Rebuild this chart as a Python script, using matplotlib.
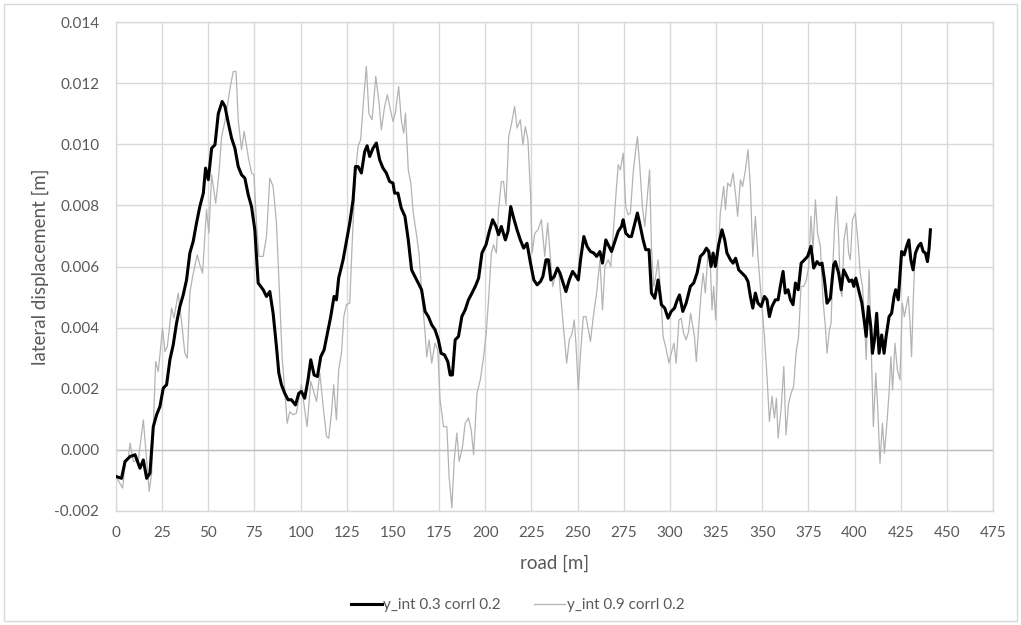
import matplotlib
matplotlib.use("Agg")
import matplotlib.pyplot as plt
from matplotlib.patches import Rectangle

# ---------------- data ----------------
road_a = [0, 3, 4.9, 7.6, 10.3, 13, 14.8, 16.6, 18.4, 20.2, 22, 23.8, 25.6, 27.4, 29.2, 31, 32.8, 34.6, 36.4, 38.2,
          40, 41.8, 43.6, 45.4, 47.3, 48.5, 50, 51.8, 53.6, 55.4, 57.5, 59, 60.8, 62.6, 64.4, 66.2, 68, 69.8, 71.6, 73.4,
          75.2, 77, 79.7, 81.5, 83.3, 85.1, 86.9, 88.2, 89.6, 91.4, 93.2, 95, 97.2, 99, 100.4, 102.2, 104, 105.5, 107.3,
          109.1, 110.9, 112.7, 114.5, 116.3, 118.1, 119.4, 120.6, 123, 124.8, 126.6, 128.4, 129.7, 131.1, 132.9, 134.7,
          136, 137.4, 139.2, 141, 142.8, 144.6, 146.4, 148.2, 150, 150.9, 152.7, 154.5, 156.5, 158.3, 160.1, 161.9,
          163.7, 165.5, 167.4, 169.2, 171, 172.8, 174.6, 176.1, 177.9, 179.7, 181, 182.2, 183.7, 185.5, 187.3, 189.1,
          190.9, 192.8, 194.6, 196.4, 198.2, 200.4, 202.2, 204, 205.8, 207.2, 208.7, 210.9, 212.3, 213.8, 215.4, 217.2,
          219, 220.8, 222.6, 224.5, 226.3, 228.1, 229.9, 231.2, 232.9, 234.2, 235.5, 237.3, 239.1, 240.5, 241.9, 243.7,
          245.5, 247.3, 248.6, 250.4, 251.6, 253.4, 255.2, 257, 258.8, 260.3, 262.1, 263.5, 265.3, 266.6, 268.4, 270.2,
          272, 273.8, 274.7, 276.1, 277.9, 279.2, 281, 282.4, 284, 285.5, 286.9, 288.7, 290, 291.8, 293.6, 295.4, 297.2,
          299, 300.7, 302.5, 304, 305.2, 307, 308.8, 311.1, 312.9, 314.7, 316.5, 318.3, 319.8, 321, 322.3, 323.4, 324.6,
          326.4, 328.2, 329.7, 330.9, 332.8, 334.2, 335.6, 337.3, 339.1, 340.9, 342.3, 343.6, 344.9, 346.3, 347.7, 349.4,
          351.2, 352.6, 353.9, 355.3, 357.1, 358.6, 359.8, 361.3, 362.5, 364, 365.3, 366.7, 368, 369.5, 371.1, 372.9,
          374.6, 376.4, 377.9, 379.7, 381.1, 382.4, 383.7, 385.1, 386.9, 388.7, 389.6, 391.4, 392.8, 394.1, 395.9, 397.1,
          398.6, 399.6, 400.7, 402.2, 404, 405.2, 406.3, 407.5, 408.8, 409.7, 410.8, 412, 413.3, 414.7, 416, 417.1, 418.7,
          420.1, 421.4, 422.3, 423.7, 425.5, 426.9, 428.2, 429.4, 430.5, 431.7, 433, 434.5, 435.9, 437.2, 438.4, 439.5,
          440.4, 441.1]
disp_a = [-0.00087, -0.00093, -0.00038, -0.00022, -0.00016, -0.0006, -0.00033, -0.00093, -0.00076, 0.00076, 0.00115,
          0.00142, 0.00202, 0.00213, 0.00295, 0.00344, 0.00415, 0.00469, 0.00507, 0.00556, 0.00644, 0.00682, 0.00742,
          0.00796, 0.0084, 0.00922, 0.00884, 0.00987, 0.00998, 0.011, 0.0114, 0.01124, 0.0107, 0.0102, 0.00987, 0.00927,
          0.009, 0.00889, 0.00835, 0.00796, 0.0072, 0.00546, 0.00524, 0.00502, 0.00518, 0.00447, 0.00338, 0.00251,
          0.00213, 0.00185, 0.00164, 0.00164, 0.00147, 0.00185, 0.00191, 0.00169, 0.00229, 0.00295, 0.00245, 0.0024,
          0.00305, 0.00327, 0.00382, 0.00436, 0.00502, 0.00491, 0.00562, 0.00622, 0.00682, 0.00742, 0.00818, 0.00927,
          0.00927, 0.00906, 0.00976, 0.00995, 0.0096, 0.00987, 0.01004, 0.00949, 0.00922, 0.00906, 0.00878, 0.00873,
          0.0084, 0.0084, 0.00791, 0.00764, 0.00687, 0.00589, 0.00567, 0.00546, 0.00524, 0.00453, 0.00436, 0.00409,
          0.00393, 0.0036, 0.00316, 0.00311, 0.00289, 0.00245, 0.00245, 0.0036, 0.00371, 0.00436, 0.00458, 0.00491,
          0.00513, 0.00535, 0.00562, 0.00644, 0.00671, 0.00715, 0.00753, 0.00731, 0.00704, 0.00731, 0.00687, 0.00715,
          0.00796, 0.00758, 0.0072, 0.00687, 0.0066, 0.00676, 0.00611, 0.00556, 0.0054, 0.00551, 0.00567, 0.00622,
          0.00622, 0.00556, 0.00567, 0.00595, 0.00578, 0.00551, 0.00518, 0.00556, 0.00584, 0.00573, 0.00556, 0.00622,
          0.00698, 0.00665, 0.00649, 0.00644, 0.00633, 0.00649, 0.00611, 0.00687, 0.00671, 0.00649, 0.00682, 0.00715,
          0.00731, 0.00753, 0.00709, 0.00698, 0.00698, 0.00742, 0.00775, 0.00731, 0.00687, 0.00655, 0.00655, 0.00513,
          0.00496, 0.00556, 0.00475, 0.00464, 0.00431, 0.00453, 0.00464, 0.00491, 0.00507, 0.00453, 0.0048, 0.00535,
          0.00546, 0.00578, 0.00633, 0.00644, 0.0066, 0.00649, 0.006, 0.00644, 0.006, 0.00671, 0.0072, 0.00687, 0.00644,
          0.00622, 0.00611, 0.00627, 0.00589, 0.00578, 0.00567, 0.00551, 0.00502, 0.00464, 0.00513, 0.0048, 0.00469,
          0.00502, 0.00491, 0.00436, 0.00469, 0.00491, 0.00491, 0.00535, 0.00584, 0.00513, 0.00524, 0.00491, 0.00475,
          0.00546, 0.00524, 0.00611, 0.00622, 0.00633, 0.00666, 0.00595, 0.00616, 0.00606, 0.00611, 0.00556, 0.0048,
          0.00496, 0.00606, 0.00616, 0.00578, 0.00524, 0.00589, 0.00567, 0.00551, 0.00556, 0.00535, 0.00562, 0.00524,
          0.0048, 0.00425, 0.00371, 0.00469, 0.00404, 0.00316, 0.0036, 0.00447, 0.00316, 0.00376, 0.00316, 0.00371,
          0.00436, 0.00447, 0.00502, 0.00524, 0.00491, 0.00649, 0.00638, 0.00666, 0.00687, 0.00622, 0.00589, 0.00644,
          0.00666, 0.00676, 0.00649, 0.00644, 0.00616, 0.0066, 0.0072]

road_b = [0, 3.6, 4.9, 6.7, 7.6, 9.4, 12.1, 14.8, 16.6, 18, 19.3, 21.5, 22.9, 25.2, 26.5, 27.8, 30.1, 31.4, 33.7, 35.5,
          37.3, 38.6, 40, 41.5, 44, 45.4, 46.9, 49, 50.3, 51.8, 54, 55.7, 57.2, 59, 61.8, 63.5, 65, 66.2, 68, 69.4, 71.6,
          73.4, 74.7, 76.1, 77.4, 79.7, 81.5, 83.3, 85.1, 86.9, 88.7, 90, 91.4, 92.7, 94.1, 95.9, 97.7, 100.4, 102.2,
          103.5, 105.5, 107.3, 108.6, 110.4, 112.2, 114, 115.2, 116.7, 117.9, 119.4, 120.6, 122.1, 123.4, 124.8, 126.6,
          128, 129.7, 131.1, 132.5, 133.8, 135.6, 137, 138.7, 140.7, 142.5, 143.7, 145.5, 147, 148.6, 150, 151.3, 153.1,
          154.5, 155.8, 156.8, 158.3, 159.7, 161, 162.9, 164.1, 165.6, 167.4, 168.3, 169.6, 171, 172.8, 174.3, 175.5,
          177.4, 179.2, 180.4, 181.9, 183.2, 184.6, 185.9, 187.7, 189.1, 190.9, 192.4, 193.7, 195.5, 197.3, 199.1, 200.5,
          201.8, 203.3, 204.5, 206, 207.2, 208.7, 209.9, 211.2, 212.7, 214.1, 215.9, 217.2, 219, 220.4, 221.7, 223.1,
          224.5, 225.4, 226.8, 228.6, 230.4, 232.2, 233.8, 235.1, 236.5, 238.3, 239.6, 240.9, 242.3, 244.1, 245.5, 246.8,
          248.2, 249.1, 250.4, 251.6, 253.1, 254.5, 255.8, 257, 258.5, 260.3, 262.1, 263.5, 264.8, 266.6, 268, 269.2,
          270.7, 272, 273.2, 274.7, 276.1, 277.4, 278.6, 280.1, 281.3, 282.4, 283.7, 285.1, 286.4, 287.6, 289, 290,
          291.2, 292.3, 293.6, 294.8, 296.3, 297.7, 299.5, 300.7, 302.2, 303.4, 304.9, 306.1, 307.4, 308.8, 310.1, 311.2,
          313.3, 314.3, 315.6, 316.9, 318, 319.2, 320.5, 321.6, 322.8, 323.7, 324.8, 325.9, 327.3, 328.2, 329.1, 330.1,
          331.3, 332.8, 334.2, 335.5, 336.7, 338.2, 339.4, 340.9, 342.3, 343.6, 344.9, 346.3, 347.7, 349.4, 351.2, 352.6,
          353.9, 355.3, 356.6, 357.7, 358.6, 360.2, 361.7, 362.9, 364.3, 365.6, 367, 368.3, 369.7, 371, 372.5, 373.9,
          375.2, 376.4, 377.5, 378.8, 380, 381.5, 382.9, 384.2, 385.1, 386.4, 387.3, 388.4, 389.1, 390.3, 391.4, 392.3,
          393.2, 394.3, 395.7, 396.8, 397.7, 398.9, 400.4, 401.8, 403.1, 404.3, 405.4, 406.3, 407.2, 407.9, 409, 410.2,
          411.5, 412.6, 413.8, 415.1, 416.2, 417.4, 418.7, 419.7, 420.6, 421.9, 423.2, 424.6, 425.9, 427, 428, 429.1,
          430, 430.9, 431.8, 432.7]
disp_b = [-0.00087, -0.00125, -0.00044, -0.00027, 0.00022, -0.00038, -0.00033, 0.00098, -0.00033, -0.00136, -0.00076,
          0.00289, 0.00256, 0.00398, 0.00322, 0.00338, 0.00464, 0.00431, 0.00513, 0.0042, 0.00316, 0.003, 0.00513,
          0.00567, 0.00638, 0.00606, 0.00578, 0.00786, 0.00709, 0.009, 0.00807, 0.009, 0.01025, 0.01075, 0.01184,
          0.01238, 0.01238, 0.0108, 0.00982, 0.01042, 0.0096, 0.00906, 0.009, 0.00742, 0.00633, 0.00633, 0.00698,
          0.00889, 0.00862, 0.00742, 0.00491, 0.003, 0.00196, 0.00087, 0.00125, 0.00115, 0.0012, 0.00213, 0.00131,
          0.00076, 0.00224, 0.00185, 0.00158, 0.00251, 0.00142, 0.00044, 0.00038, 0.0012, 0.00213, 0.00098, 0.00262,
          0.00316, 0.00436, 0.00475, 0.0048, 0.00687, 0.00906, 0.00993, 0.01015, 0.01124, 0.01255, 0.011, 0.0108,
          0.01222, 0.01135, 0.01047, 0.01124, 0.01162, 0.01113, 0.01075, 0.01102, 0.01189, 0.0108, 0.01036, 0.01102,
          0.00916, 0.00873, 0.00775, 0.00698, 0.00644, 0.00513, 0.00382, 0.00305, 0.0036, 0.00284, 0.00349, 0.00327,
          0.00164, 0.00076, 0.00076, -0.00087, -0.0019, -0.00033, 0.00055, -0.00038, 0.00011, 0.00087, 0.00104, 0.00065,
          -0.00016, 0.00185, 0.00229, 0.00305, 0.00382, 0.00491, 0.00644, 0.00671, 0.00644, 0.00786, 0.00878, 0.00878,
          0.00802, 0.01025, 0.01064, 0.01124, 0.01053, 0.0108, 0.00998, 0.01058, 0.01015, 0.0084, 0.00644, 0.00709,
          0.0072, 0.00753, 0.00633, 0.00742, 0.00644, 0.00535, 0.00578, 0.00595, 0.00502, 0.00404, 0.00284, 0.0036,
          0.00376, 0.00425, 0.00349, 0.00196, 0.00316, 0.00436, 0.00436, 0.00393, 0.00355, 0.00436, 0.00513, 0.00622,
          0.00458, 0.006, 0.00622, 0.006, 0.00698, 0.00829, 0.00933, 0.00916, 0.00971, 0.00796, 0.00769, 0.00775,
          0.00906, 0.00971, 0.01025, 0.00927, 0.00796, 0.00731, 0.00818, 0.00916, 0.00666, 0.00535, 0.00567, 0.00622,
          0.00535, 0.00371, 0.00338, 0.00284, 0.00316, 0.00349, 0.00284, 0.00425, 0.00431, 0.00382, 0.0036, 0.00387,
          0.00447, 0.00371, 0.00289, 0.00404, 0.00513, 0.00578, 0.00513, 0.00633, 0.00655, 0.00458, 0.00535, 0.00425,
          0.00611, 0.00775, 0.00818, 0.00862, 0.00786, 0.00873, 0.00862, 0.00906, 0.0084, 0.00764, 0.00884, 0.00862,
          0.00916, 0.00982, 0.00862, 0.00633, 0.00764, 0.00633, 0.00502, 0.00371, 0.0024, 0.00093, 0.00175, 0.00104,
          0.00169, 0.00038, 0.00131, 0.00273, 0.00049, 0.00153, 0.00185, 0.00207, 0.00316, 0.00371, 0.00535, 0.00535,
          0.00556, 0.006, 0.00764, 0.00655, 0.00818, 0.00709, 0.00666, 0.00491, 0.00404, 0.00316, 0.00393, 0.00414,
          0.00622, 0.0072, 0.00829, 0.00698, 0.00524, 0.00502, 0.00687, 0.00742, 0.00644, 0.00622, 0.00753, 0.00775,
          0.00687, 0.00578, 0.00535, 0.00425, 0.00295, 0.00458, 0.00589, 0.00349, 0.00076, 0.00251, 0.00131, -0.00044,
          0.00087, -0.00011, 0.00076, 0.00185, 0.00305, 0.00196, 0.00349, 0.00262, 0.00229, 0.0048, 0.00436, 0.00469,
          0.00502, 0.00425, 0.00305, 0.00491, 0.00622]

label_a = "y_int 0.3 corrl 0.2"
label_b = "y_int 0.9 corrl 0.2"
x_ticks = list(range(0, 476, 25))
y_ticks = [-0.002, 0.0, 0.002, 0.004, 0.006, 0.008, 0.010, 0.012, 0.014]

# ---------------- figure ----------------
plt.rcParams['font.family'] = ['Lato', 'DejaVu Sans']
W, H = 1021, 625
fig = plt.figure(figsize=(W / 100, H / 100), dpi=100)
fig.patches.append(Rectangle((4 / W, 4 / H), 1 - 8 / W, 1 - 8 / H, transform=fig.transFigure,
                             fill=False, edgecolor='#d9d9d9', linewidth=1))

ax = fig.add_axes([116 / W, 1 - 511 / H, (993 - 116) / W, (511 - 22) / H])
txt = '#595959'
grid_c = '#d9d9d9'

ax.plot(road_b, disp_b, color='#b3b3b3', linewidth=0.9, label=label_b, zorder=3)
ax.plot(road_a, disp_a, color='black', linewidth=2.2, label=label_a, zorder=4)

ax.set_xlim(0, 475)
ax.set_ylim(-0.002, 0.014)
ax.set_xticks(x_ticks)
ax.set_yticks(y_ticks)
ax.set_yticklabels([f"{v:.3f}" for v in y_ticks])
ax.grid(True, color=grid_c, linewidth=1)
ax.axhline(0, color='#bfbfbf', linewidth=1, zorder=2)
for s in ax.spines.values():
    s.set_color(grid_c)
    s.set_linewidth(1)
ax.tick_params(length=0, colors=txt, labelsize=11)
ax.tick_params(axis='y', pad=12)
ax.tick_params(axis='x', pad=11)
ax.set_xlabel("road [m]", color=txt, fontsize=13.5, labelpad=10)
ax.set_ylabel("lateral displacement [m]", color=txt, fontsize=13.5, labelpad=4)

h, l = ax.get_legend_handles_labels()
fig.legend([h[1], h[0]], [l[1], l[0]], loc='center', bbox_to_anchor=(0.507, 1 - 605 / H), ncol=2,
           frameon=False, fontsize=11, labelcolor=txt, handlelength=2.0, handletextpad=0.1,
           columnspacing=2.2)

fig.savefig("out.png", dpi=100)
